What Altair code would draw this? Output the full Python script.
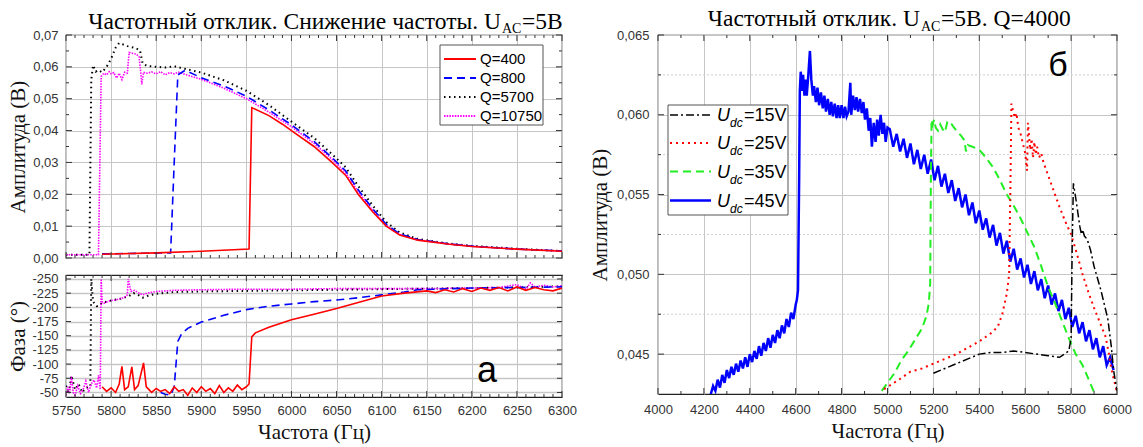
import altair as alt
import pandas as pd

# ---------------- panel (а): amplitude vs frequency ----------------
AMP_Q400_F = [5790, 5850, 5900, 5953, 5956, 5975, 5990, 6000, 6025, 6045, 6060, 6074, 6090, 6105, 6120, 6140, 6175, 6200, 6250, 6300]
AMP_Q400_V = [0.0012, 0.0016, 0.0021, 0.0028, 0.0472, 0.0447, 0.0420, 0.0400, 0.0350, 0.0300, 0.0260, 0.0200, 0.0145, 0.0100, 0.0072, 0.0056, 0.0043, 0.0036, 0.0028, 0.0021]

AMP_Q800_F = [5790, 5866, 5870, 5874, 5882, 5900, 5925, 5950, 5975, 6000, 6025, 6045, 6060, 6074, 6090, 6105, 6120, 6140, 6175, 6200, 6250, 6300]
AMP_Q800_V = [0.0013, 0.0016, 0.0300, 0.0575, 0.0589, 0.0566, 0.0540, 0.0508, 0.0465, 0.0418, 0.0366, 0.0315, 0.0274, 0.0214, 0.0155, 0.0106, 0.0076, 0.0058, 0.0044, 0.0037, 0.0028, 0.0022]

AMP_Q5700_F = [5750, 5776, 5778, 5780, 5783, 5786, 5790, 5795, 5800, 5805, 5809, 5818, 5826, 5832, 5835, 5840, 5850, 5860, 5870, 5880, 5900, 5925, 5950, 5975, 6000, 6025, 6045, 6060, 6074, 6090, 6105, 6120, 6140, 6175, 6200, 6250, 6300]
AMP_Q5700_V = [0.0010, 0.0010, 0.0560, 0.0605, 0.0585, 0.0590, 0.0583, 0.0600, 0.0625, 0.0660, 0.0675, 0.0665, 0.0660, 0.0652, 0.0610, 0.0603, 0.0600, 0.0598, 0.0602, 0.0595, 0.0582, 0.0558, 0.0525, 0.0480, 0.0428, 0.0377, 0.0326, 0.0285, 0.0226, 0.0165, 0.0113, 0.0080, 0.0060, 0.0045, 0.0038, 0.0029, 0.0022]

AMP_Q10750_F = [5750, 5786, 5789, 5792, 5795, 5798, 5800, 5803, 5806, 5809, 5812, 5815, 5818, 5820, 5828, 5831, 5833, 5834, 5836, 5840, 5845, 5850, 5855, 5860, 5865, 5870, 5875, 5880, 5900, 5925, 5950, 5975, 6000, 6025, 6045, 6060, 6074, 6090, 6105, 6120, 6140, 6175, 6200, 6250, 6300]
AMP_Q10750_V = [0.0010, 0.0010, 0.0570, 0.0580, 0.0575, 0.0585, 0.0578, 0.0582, 0.0565, 0.0580, 0.0560, 0.0583, 0.0580, 0.0645, 0.0640, 0.0632, 0.0580, 0.0545, 0.0583, 0.0580, 0.0584, 0.0578, 0.0585, 0.0575, 0.0582, 0.0578, 0.0583, 0.0578, 0.0561, 0.0533, 0.0500, 0.0458, 0.0412, 0.0360, 0.0310, 0.0268, 0.0208, 0.0150, 0.0103, 0.0074, 0.0057, 0.0044, 0.0037, 0.0028, 0.0022]

# ---------------- panel (а): phase vs frequency ----------------
PH_Q400_F = [5790, 5795, 5800, 5805, 5809, 5812, 5815, 5819, 5823, 5826, 5830, 5836, 5839, 5842, 5845, 5850, 5855, 5860, 5865, 5870, 5875, 5880, 5885, 5890, 5895, 5900, 5905, 5910, 5915, 5920, 5925, 5930, 5935, 5940, 5945, 5950, 5953, 5956, 5960, 5975, 6000, 6025, 6050, 6075, 6100, 6125, 6150, 6160, 6170, 6180, 6190, 6200, 6210, 6220, 6230, 6240, 6250, 6260, 6270, 6280, 6290, 6300]
PH_Q400_V = [-60, -52, -58, -50, -65, -96, -55, -60, -95, -55, -62, -102, -60, -55, -50, -57, -52, -55, -48, -60, -52, -55, -45, -58, -50, -60, -52, -57, -48, -62, -50, -58, -52, -63, -55, -60, -65, -148, -155, -165, -178, -188, -198, -209, -220, -225, -229, -226, -231, -227, -233, -228, -234, -230, -235, -229, -236, -230, -235, -231, -229, -234]

PH_Q800_F = [5855, 5860, 5866, 5870, 5874, 5878, 5885, 5900, 5925, 5950, 5975, 6000, 6025, 6050, 6075, 6100, 6125, 6140, 6160, 6200, 6250, 6300]
PH_Q800_V = [-50, -47, -45, -60, -140, -153, -163, -174, -186, -196, -202, -206, -210, -213, -217, -222, -227, -231, -232, -234, -235, -236]

PH_Q5700_F = [5750, 5753, 5756, 5760, 5764, 5768, 5772, 5777, 5778, 5780, 5784, 5787, 5790, 5795, 5800, 5810, 5820, 5825, 5830, 5835, 5840, 5850, 5870, 5900, 5950, 6000, 6050, 6100, 6150, 6200, 6250, 6300]
PH_Q5700_V = [-62, -47, -80, -55, -65, -50, -58, -60, -250, -210, -202, -203, -208, -210, -212, -215, -220, -225, -222, -217, -220, -224, -227, -228, -229, -230, -231, -232, -233, -234, -235, -237]

PH_Q10750_F = [5750, 5752, 5754, 5756, 5758, 5760, 5763, 5766, 5769, 5772, 5775, 5778, 5781, 5784, 5786, 5788, 5789, 5790, 5792, 5796, 5800, 5805, 5810, 5815, 5818, 5819, 5822, 5826, 5830, 5835, 5840, 5850, 5870, 5900, 5950, 6000, 6050, 6100, 6150, 6200, 6230, 6250, 6260, 6265, 6270, 6280, 6290, 6300]
PH_Q10750_V = [-45, -60, -48, -78, -50, -45, -62, -48, -55, -70, -50, -65, -72, -58, -80, -55, -250, -210, -207, -210, -212, -213, -215, -218, -222, -250, -228, -230, -226, -222, -225, -228, -230, -231, -232, -232, -233, -233, -233, -234, -235, -240, -232, -243, -236, -239, -236, -238]

# ---------------- panel (б): amplitude, Q=4000 ----------------
U15_F = [5200, 5250, 5300, 5350, 5400, 5450, 5500, 5550, 5600, 5650, 5700, 5750, 5790, 5800, 5805, 5810, 5820, 5830, 5838, 5845, 5850, 5858, 5870, 5885, 5900, 5930, 5960, 5975, 5985, 6000]
U15_V = [0.0438, 0.0441, 0.0444, 0.0447, 0.0450, 0.0451, 0.0451, 0.0452, 0.0451, 0.0450, 0.0449, 0.0448, 0.0452, 0.0460, 0.0520, 0.0557, 0.0548, 0.0538, 0.0530, 0.0525, 0.0528, 0.0524, 0.0522, 0.0515, 0.0505, 0.0490, 0.0472, 0.0455, 0.0440, 0.0427]

U25_F = [4985, 5050, 5100, 5150, 5200, 5250, 5300, 5350, 5400, 5450, 5480, 5500, 5520, 5530, 5536, 5540, 5548, 5555, 5562, 5570, 5580, 5590, 5600, 5608, 5612, 5616, 5622, 5628, 5634, 5640, 5646, 5652, 5660, 5670, 5680, 5700, 5725, 5750, 5775, 5800, 5825, 5850, 5875, 5900, 5925, 5950, 5965, 5975, 5990, 6000]
U25_V = [0.0428, 0.0434, 0.0439, 0.0441, 0.0444, 0.0447, 0.0450, 0.0454, 0.0458, 0.0463, 0.0467, 0.0475, 0.0488, 0.0500, 0.0560, 0.0607, 0.0602, 0.0598, 0.0601, 0.0592, 0.0588, 0.0582, 0.0576, 0.0565, 0.0595, 0.0588, 0.0578, 0.0585, 0.0573, 0.0583, 0.0575, 0.0580, 0.0573, 0.0576, 0.0570, 0.0562, 0.0552, 0.0542, 0.0533, 0.0525, 0.0513, 0.0500, 0.0489, 0.0479, 0.0470, 0.0461, 0.0450, 0.0441, 0.0432, 0.0426]

U35_F = [4975, 5000, 5030, 5060, 5090, 5120, 5150, 5170, 5180, 5186, 5189, 5192, 5197, 5203, 5210, 5220, 5230, 5240, 5250, 5260, 5270, 5280, 5290, 5300, 5320, 5335, 5342, 5350, 5370, 5400, 5430, 5460, 5490, 5520, 5550, 5580, 5610, 5640, 5670, 5700, 5730, 5760, 5790, 5820, 5850, 5880, 5900]
U35_V = [0.0427, 0.0432, 0.0438, 0.0446, 0.0452, 0.0459, 0.0466, 0.0474, 0.0482, 0.0494, 0.0560, 0.0597, 0.0594, 0.0597, 0.0592, 0.0590, 0.0594, 0.0591, 0.0589, 0.0595, 0.0593, 0.0594, 0.0592, 0.0590, 0.0587, 0.0584, 0.0577, 0.0581, 0.0580, 0.0578, 0.0573, 0.0567, 0.0559, 0.0550, 0.0543, 0.0535, 0.0526, 0.0517, 0.0505, 0.0492, 0.0482, 0.0471, 0.0460, 0.0450, 0.0443, 0.0433, 0.0426]

U45_RISE_F = [4230, 4240, 4250, 4260, 4270, 4280, 4290, 4300, 4310, 4320, 4330, 4340, 4350, 4360, 4370, 4380, 4390, 4400, 4410, 4420, 4430, 4440, 4450, 4460, 4470, 4480, 4490, 4500, 4510, 4520, 4530, 4540, 4550, 4560, 4570, 4580, 4590, 4600]
U45_RISE_V = [0.0425, 0.0430, 0.0427, 0.0434, 0.0429, 0.0437, 0.0432, 0.0440, 0.0435, 0.0442, 0.0437, 0.0444, 0.0439, 0.0446, 0.0441, 0.0448, 0.0442, 0.0450, 0.0445, 0.0452, 0.0447, 0.0455, 0.0449, 0.0457, 0.0452, 0.0460, 0.0454, 0.0462, 0.0457, 0.0465, 0.0460, 0.0468, 0.0463, 0.0472, 0.0467, 0.0476, 0.0472, 0.0481]
U45_TOP_F = [4605, 4610, 4615, 4618, 4622, 4628, 4632, 4638, 4642, 4648, 4655, 4662, 4668, 4675, 4680, 4688, 4695, 4702, 4710, 4718, 4725, 4732, 4740, 4748, 4755, 4762, 4770, 4778, 4785, 4792, 4800, 4808, 4815, 4822, 4830, 4838, 4842, 4850, 4858, 4865, 4872, 4880, 4888, 4895, 4902, 4910, 4918, 4925, 4932, 4940, 4948, 4955, 4962, 4970, 4978, 4985, 4992, 5000]
U45_TOP_V = [0.0484, 0.0490, 0.0560, 0.0615, 0.0627, 0.0615, 0.0625, 0.0612, 0.0622, 0.0612, 0.0625, 0.0640, 0.0622, 0.0612, 0.0618, 0.0608, 0.0617, 0.0606, 0.0614, 0.0604, 0.0612, 0.0602, 0.0610, 0.0600, 0.0608, 0.0599, 0.0607, 0.0598, 0.0606, 0.0598, 0.0606, 0.0598, 0.0605, 0.0599, 0.0602, 0.0620, 0.0600, 0.0612, 0.0603, 0.0611, 0.0602, 0.0610, 0.0601, 0.0608, 0.0597, 0.0604, 0.0590, 0.0598, 0.0580, 0.0595, 0.0583, 0.0597, 0.0587, 0.0600, 0.0588, 0.0595, 0.0583, 0.0592]
U45_FALL_F = [5010, 5025, 5040, 5055, 5070, 5085, 5100, 5115, 5130, 5145, 5160, 5175, 5190, 5205, 5220, 5235, 5250, 5265, 5280, 5295, 5310, 5325, 5340, 5355, 5370, 5385, 5400, 5415, 5430, 5445, 5460, 5475, 5490, 5505, 5520, 5535, 5550, 5565, 5580, 5595, 5610, 5625, 5640, 5655, 5670, 5685, 5700, 5715, 5730, 5745, 5760, 5775, 5790, 5805, 5820, 5835, 5850, 5865, 5880, 5895, 5910, 5925, 5940, 5955, 5970, 5985]
U45_FALL_V = [0.0591, 0.0580, 0.0588, 0.0577, 0.0585, 0.0573, 0.0582, 0.0569, 0.0578, 0.0566, 0.0575, 0.0563, 0.0572, 0.0559, 0.0568, 0.0555, 0.0563, 0.0551, 0.0559, 0.0546, 0.0554, 0.0542, 0.0550, 0.0537, 0.0545, 0.0532, 0.0540, 0.0528, 0.0535, 0.0523, 0.0531, 0.0518, 0.0526, 0.0513, 0.0521, 0.0508, 0.0516, 0.0503, 0.0510, 0.0498, 0.0506, 0.0494, 0.0502, 0.0490, 0.0497, 0.0485, 0.0493, 0.0481, 0.0488, 0.0477, 0.0484, 0.0472, 0.0479, 0.0467, 0.0474, 0.0463, 0.0470, 0.0458, 0.0465, 0.0453, 0.0460, 0.0448, 0.0455, 0.0443, 0.0448, 0.0440]

# ---------------- ticks, labels, texts ----------------
A_X_TICKS = [5750, 5800, 5850, 5900, 5950, 6000, 6050, 6100, 6150, 6200, 6250, 6300]
A_X_MINOR = [v for v in range(5760, 6300, 10) if v % 50]
A_Y_TICKS = [0.0, 0.01, 0.02, 0.03, 0.04, 0.05, 0.06, 0.07]
A_Y_MINOR = [0.005, 0.015, 0.025, 0.035, 0.045, 0.055, 0.065]
PH_Y_TICKS = [-250, -225, -200, -175, -150, -125, -100, -75, -50]
B_X_TICKS = [4000, 4200, 4400, 4600, 4800, 5000, 5200, 5400, 5600, 5800, 6000]
B_X_MINOR = [4100, 4300, 4500, 4700, 4900, 5100, 5300, 5500, 5700, 5900]
B_Y_TICKS = [0.045, 0.050, 0.055, 0.060, 0.065]
B_Y_MINOR = [0.0475, 0.0525, 0.0575, 0.0625]

LEGEND_A = ["Q=400", "Q=800", "Q=5700", "Q=10750"]
LEGEND_B = ["=15V", "=25V", "=35V", "=45V"]
TITLE_A = ["Частотный отклик. Снижение частоты. U", "AC", "=5В"]
TITLE_B = ["Частотный отклик. U", "AC", "=5В. Q=4000"]
X_TITLE = "Частота (Гц)"
Y_TITLE_AMP = "Амплитуда (В)"
Y_TITLE_PH = "Фаза (°)"

SERIF = "Liberation Serif"
SANS = "Liberation Sans"
GRID = "#c6c6c6"
TICK = "#333333"
COMMA2 = "replace(format(datum.value, '.2f'), '.', ',')"
COMMA3 = "replace(format(datum.value, '.3f'), '.', ',')"


def frame(f, v):
    return pd.DataFrame({"f": f, "v": v})


def series(f, v, x, y, color, width, dash=None):
    kw = dict(color=color, strokeWidth=width, clip=True)
    if dash:
        kw["strokeDash"] = dash
    return alt.Chart(frame(f, v)).mark_line(**kw).encode(x=x, y=y)


def text(s, x, y, size, font=SANS, align="left", style="normal", color="black"):
    return alt.Chart(pd.DataFrame({"t": [s]})).mark_text(
        align=align, baseline="alphabetic", font=font, fontSize=size,
        fontStyle=style, color=color
    ).encode(text="t:N", x=alt.value(x), y=alt.value(y))


def box(x1, x2, y1, y2):
    return alt.Chart(pd.DataFrame({"t": [""]})).mark_rect(
        fill="white", stroke="#555", strokeWidth=1
    ).encode(x=alt.value(x1), x2=alt.value(x2), y=alt.value(y1), y2=alt.value(y2))


def sample(x1, x2, y, color, width, dash=None):
    kw = dict(color=color, strokeWidth=width)
    if dash:
        kw["strokeDash"] = dash
    return alt.Chart(pd.DataFrame({"t": [""]})).mark_rule(**kw).encode(
        x=alt.value(x1), x2=alt.value(x2), y=alt.value(y))


def xticks(vals, x_enc, height, length):
    """Inward tick marks on the top and bottom borders (same x encoding as the data)."""
    d = pd.DataFrame({"f": vals})
    top = alt.Chart(d).mark_rule(color=TICK, strokeWidth=1).encode(
        x=x_enc, y=alt.value(0), y2=alt.value(length))
    bot = alt.Chart(d).mark_rule(color=TICK, strokeWidth=1).encode(
        x=x_enc, y=alt.value(height), y2=alt.value(height - length))
    return [top, bot]


def yticks(vals, y_enc, width, length):
    """Inward tick marks on the left and right borders (same y encoding as the data)."""
    d = pd.DataFrame({"v": vals})
    lft = alt.Chart(d).mark_rule(color=TICK, strokeWidth=1).encode(
        y=y_enc, x=alt.value(0), x2=alt.value(length))
    rgt = alt.Chart(d).mark_rule(color=TICK, strokeWidth=1).encode(
        y=y_enc, x=alt.value(width), x2=alt.value(width - length))
    return [lft, rgt]


# ---------------- scales / encodings ----------------
xa_scale = alt.Scale(domain=[5750, 6300], nice=False, zero=False)
amp_scale = alt.Scale(domain=[0, 0.07], nice=False, zero=False)
ph_scale = alt.Scale(domain=[-257, -42], nice=False, zero=False, reverse=True)
xb_scale = alt.Scale(domain=[4000, 6000], nice=False, zero=False)
yb_scale = alt.Scale(domain=[0.0425, 0.065], nice=False, zero=False)

x_top = alt.X("f:Q", scale=xa_scale, axis=alt.Axis(values=A_X_TICKS, labels=False, title=None, grid=True))
x_bot = alt.X("f:Q", scale=xa_scale, axis=alt.Axis(values=A_X_TICKS, format="d", title=X_TITLE, grid=True,
                                                   labelPadding=7, titlePadding=4))
y_amp = alt.Y("v:Q", scale=amp_scale,
              axis=alt.Axis(values=A_Y_TICKS, labelExpr=COMMA2, title=Y_TITLE_AMP, grid=True,
                            labelPadding=8, minExtent=34, maxExtent=34, titlePadding=4))
y_ph = alt.Y("v:Q", scale=ph_scale,
             axis=alt.Axis(values=PH_Y_TICKS, labelExpr="'-' + abs(datum.value)", title=Y_TITLE_PH,
                           grid=True, gridWidth=1.5, labelPadding=8, minExtent=34, maxExtent=34,
                           titlePadding=4))

xb = alt.X("f:Q", scale=xb_scale,
           axis=alt.Axis(values=B_X_TICKS, format="d", title=X_TITLE, grid=True, labelPadding=9, titlePadding=4))
yb = alt.Y("v:Q", scale=yb_scale,
           axis=alt.Axis(values=B_Y_TICKS, labelExpr=COMMA3, title=Y_TITLE_AMP, grid=True,
                         labelPadding=9, minExtent=44, maxExtent=44, titlePadding=4))

RED, BLUE, BLACK, MAGENTA, GREEN = "#ff0000", "#0000ff", "#000000", "#ff00ff", "#22ee22"

# ---------------- top-left: amplitude ----------------
amp = alt.layer(
    series(AMP_Q5700_F, AMP_Q5700_V, x_top, y_amp, BLACK, 2, [1.5, 3.5]),
    series(AMP_Q10750_F, AMP_Q10750_V, x_top, y_amp, MAGENTA, 1.6, [1.5, 1.2]),
    series(AMP_Q800_F, AMP_Q800_V, x_top, y_amp, BLUE, 1.6, [8, 5]),
    series(AMP_Q400_F, AMP_Q400_V, x_top, y_amp, RED, 1.6),
    *xticks(A_X_TICKS, x_top, 223, 6),
    *xticks(A_X_MINOR, x_top, 223, 3),
    *yticks(A_Y_TICKS, y_amp, 496, 6),
    *yticks(A_Y_MINOR, y_amp, 496, 3),
    box(374, 477, 10, 90),
    sample(378, 410, 24, RED, 2),
    sample(378, 410, 43, BLUE, 2, [8, 5]),
    sample(378, 410, 62, BLACK, 2, [1.5, 3.5]),
    sample(378, 410, 81, MAGENTA, 2, [1.5, 1.2]),
    text(LEGEND_A[0], 414, 29, 15),
    text(LEGEND_A[1], 414, 48, 15),
    text(LEGEND_A[2], 414, 67, 15),
    text(LEGEND_A[3], 414, 86, 15),
    text(TITLE_A[0], 435, -6.5, 23.5, SERIF, "right"),
    text(TITLE_A[1], 436, -2, 14, SERIF),
    text(TITLE_A[2], 456, -6.5, 23.5, SERIF),
).properties(width=496, height=223)

# ---------------- bottom-left: phase ----------------
phase = alt.layer(
    series(PH_Q5700_F, PH_Q5700_V, x_bot, y_ph, BLACK, 2, [1.5, 3.5]),
    series(PH_Q10750_F, PH_Q10750_V, x_bot, y_ph, MAGENTA, 1.6, [1.5, 1.2]),
    series(PH_Q800_F, PH_Q800_V, x_bot, y_ph, BLUE, 1.6, [8, 5]),
    series(PH_Q400_F, PH_Q400_V, x_bot, y_ph, RED, 1.6),
    *xticks(A_X_TICKS, x_bot, 122, 6),
    *xticks(A_X_MINOR, x_bot, 122, 3),
    *yticks(PH_Y_TICKS, y_ph, 496, 5),
    text("а", 421, 107, 36, SANS, "center"),
).properties(width=496, height=122)

# ---------------- right: Q=4000 ----------------
minor = alt.Chart(pd.DataFrame({"v": B_Y_MINOR})).mark_rule(
    color="#cfcfcf", strokeDash=[2, 2], strokeWidth=1).encode(y=yb)

right = alt.layer(
    minor,
    series(U45_RISE_F + U45_TOP_F + U45_FALL_F, U45_RISE_V + U45_TOP_V + U45_FALL_V, xb, yb, BLUE, 2.5),
    series(U35_F, U35_V, xb, yb, GREEN, 2, [8, 5]),
    series(U25_F, U25_V, xb, yb, RED, 2, [2, 4]),
    series(U15_F, U15_V, xb, yb, BLACK, 1.5, [8, 3, 2, 3]),
    *xticks(B_X_TICKS, xb, 359, 6),
    *xticks(B_X_MINOR, xb, 359, 3),
    *yticks(B_Y_TICKS, yb, 459, 6),
    *yticks(B_Y_MINOR, yb, 459, 3),
    box(10, 130, 70, 180),
    sample(12, 53, 80, BLACK, 1.5, [8, 3, 2, 3]),
    sample(12, 53, 108, RED, 2, [2, 4]),
    sample(12, 53, 136.5, GREEN, 2, [8, 5]),
    sample(12, 53, 165.5, BLUE, 2.5),
    text("U", 59, 86, 18, SANS, "left", "italic"),
    text("U", 59, 114, 18, SANS, "left", "italic"),
    text("U", 59, 142.5, 18, SANS, "left", "italic"),
    text("U", 59, 171.5, 18, SANS, "left", "italic"),
    text("dc", 72, 92, 12, SANS, "left", "italic"),
    text("dc", 72, 120, 12, SANS, "left", "italic"),
    text("dc", 72, 148.5, 12, SANS, "left", "italic"),
    text("dc", 72, 177.5, 12, SANS, "left", "italic"),
    text(LEGEND_B[0], 86, 86, 18),
    text(LEGEND_B[1], 86, 114, 18),
    text(LEGEND_B[2], 86, 142.5, 18),
    text(LEGEND_B[3], 86, 171.5, 18),
    text("б", 400, 41, 34, SANS, "center"),
    text(TITLE_B[0], 262, -9, 23.5, SERIF, "right"),
    text(TITLE_B[1], 263, -4.5, 14, SERIF),
    text(TITLE_B[2], 283, -9, 23.5, SERIF),
).properties(width=459, height=359)

left = alt.vconcat(amp, phase, spacing=6)

chart = alt.hconcat(left, right, spacing=10).properties(
    padding={"left": 6, "top": 6, "right": 4, "bottom": 2},
    background="white",
).configure_view(
    stroke="#222", strokeWidth=1.2
).configure_axis(
    labelFont=SANS, labelFontSize=13, labelColor="#333", labelFlush=False, labelOverlap=False,
    titleFont=SERIF, titleFontSize=21, titleFontWeight="normal", titleColor="#111",
    gridColor=GRID, gridWidth=1, domain=False, ticks=False
)

chart.save("out.html", embed_options={"renderer": "svg", "actions": False})
